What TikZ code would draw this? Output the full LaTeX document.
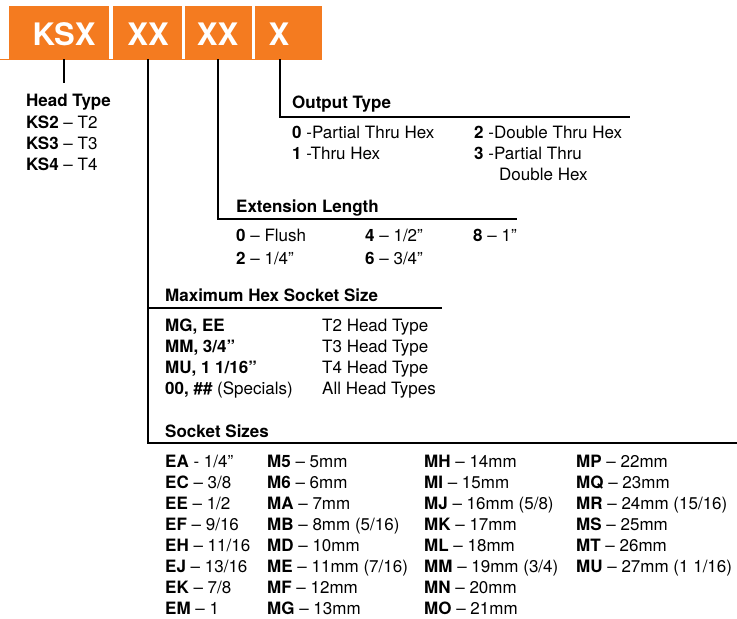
\documentclass[tikz,border=0pt]{standalone}
\usepackage{fontspec}
\setmainfont{TeX Gyre Heros}
\usepackage{tikz}
\definecolor{ksorange}{RGB}{244,123,32}
\newcommand{\bb}[1]{\textbf{#1}}

\begin{document}
\begin{tikzpicture}[x=1pt,y=-1pt,
  lbl/.style={anchor=base west,inner sep=0pt,font=\fontsize{17}{20}\selectfont},
  code/.style={anchor=base,inner sep=0pt,text=white,font=\fontsize{31}{31}\selectfont\bfseries},
  lead/.style={line width=1.8pt}]
  \useasboundingbox (0,0) rectangle (737,619);
  % part number bar
  \draw[ksorange,line width=1pt](0,59)--(322,59);
  \fill[ksorange](9,6) rectangle (109,59);
  \fill[ksorange](113,6) rectangle (182,59);
  \fill[ksorange](185,6) rectangle (252,59);
  \fill[ksorange](255,6) rectangle (322,59);
  \node[code] (ksx) at (64,45) {KSX};
  \node[code] (hexsz) at (148,45) {XX};
  \node[code] (extln) at (217.5,45) {XX};
  \node[code] (outty) at (279,45) {X};
  % leader lines
  \coordinate (ksxa) at (64,59);   \coordinate (ksxb) at (64,83);
  \coordinate (hexa) at (148,59);  \coordinate (hexb) at (148,443); \coordinate (hexc) at (737,443);
  \coordinate (maxa) at (148,308); \coordinate (maxb) at (442,308);
  \coordinate (exta) at (218,59);  \coordinate (extb) at (218,219); \coordinate (extc) at (517,219);
  \coordinate (outa) at (280,59);  \coordinate (outb) at (280,117); \coordinate (outc) at (630,117);
  \draw[lead](ksxa)--(ksxb);
  \draw[lead](hexa)--(hexb)--(hexc);
  \draw[lead](maxa)--(maxb);
  \draw[lead](exta)--(extb)--(extc);
  \draw[lead](outa)--(outb)--(outc);
  % head type
  \node[lbl] (headt) at (26,106) {\bb{Head Type}};
  \node[lbl] (ks2) at (26,128) {\bb{KS2} -- T2};
  \node[lbl] (ks3) at (26,149) {\bb{KS3} -- T3};
  \node[lbl] (ks4) at (26,170) {\bb{KS4} -- T4};
  % output type
  \node[lbl] (outt) at (292,108) {\bb{Output Type}};
  \node[lbl] (out0) at (292,138) {\bb{0} -Partial Thru Hex};
  \node[lbl] (out1) at (292,159) {\bb{1} -Thru Hex};
  \node[lbl] (out2) at (474,138) {\bb{2} -Double Thru Hex};
  \node[lbl] (out3) at (474,159) {\bb{3} -Partial Thru};
  \node[lbl] (out3b) at (499,180) {Double Hex};
  % extension length
  \node[lbl] (extt) at (236,212) {\bb{Extension Length}};
  \node[lbl] (ext0) at (236,241) {\bb{0} -- Flush};
  \node[lbl] (ext2) at (236,264) {\bb{2} -- 1/4”};
  \node[lbl] (ext4) at (365,241) {\bb{4} -- 1/2”};
  \node[lbl] (ext6) at (365,264) {\bb{6} -- 3/4”};
  \node[lbl] (ext8) at (473,241) {\bb{8} -- 1”};
  % maximum hex socket size
  \node[lbl] (maxt) at (165,301) {\bb{Maximum Hex Socket Size}};
  \node[lbl] (max2) at (165,331) {\bb{MG, EE}};
  \node[lbl] (max3) at (165,352) {\bb{MM, 3/4”}};
  \node[lbl] (max4) at (165,373) {\bb{MU, 1 1/16”}};
  \node[lbl] (maxs) at (165,394) {\bb{00, \#\#} (Specials)};
  \node[lbl] (hd2) at (322,331) {T2 Head Type};
  \node[lbl] (hd3) at (322,352) {T3 Head Type};
  \node[lbl] (hd4) at (322,373) {T4 Head Type};
  \node[lbl] (hda) at (322,394) {All Head Types};
  % socket sizes
  \node[lbl] (sockt) at (165,437) {\bb{Socket Sizes}};
  \node[lbl] (ea) at (165,467) {\bb{EA} - 1/4”};
  \node[lbl] (ec) at (165,488) {\bb{EC} -- 3/8};
  \node[lbl] (ee) at (165,509) {\bb{EE} -- 1/2};
  \node[lbl] (ef) at (165,530) {\bb{EF} -- 9/16};
  \node[lbl] (eh) at (165,551) {\bb{EH} -- 11/16};
  \node[lbl] (ej) at (165,572) {\bb{EJ} -- 13/16};
  \node[lbl] (ek) at (165,593) {\bb{EK} -- 7/8};
  \node[lbl] (em) at (165,614) {\bb{EM} -- 1};
  \node[lbl] (m5) at (267,467) {\bb{M5} -- 5mm};
  \node[lbl] (m6) at (267,488) {\bb{M6} -- 6mm};
  \node[lbl] (ma) at (267,509) {\bb{MA} -- 7mm};
  \node[lbl] (mb) at (267,530) {\bb{MB} -- 8mm (5/16)};
  \node[lbl] (md) at (267,551) {\bb{MD} -- 10mm};
  \node[lbl] (me) at (267,572) {\bb{ME} -- 11mm (7/16)};
  \node[lbl] (mf) at (267,593) {\bb{MF} -- 12mm};
  \node[lbl] (mg) at (267,614) {\bb{MG} -- 13mm};
  \node[lbl] (mh) at (424,467) {\bb{MH} -- 14mm};
  \node[lbl] (mi) at (424,488) {\bb{MI} -- 15mm};
  \node[lbl] (mj) at (424,509) {\bb{MJ} -- 16mm (5/8)};
  \node[lbl] (mk) at (424,530) {\bb{MK} -- 17mm};
  \node[lbl] (ml) at (424,551) {\bb{ML} -- 18mm};
  \node[lbl] (mm) at (424,572) {\bb{MM} -- 19mm (3/4)};
  \node[lbl] (mn) at (424,593) {\bb{MN} -- 20mm};
  \node[lbl] (mo) at (424,614) {\bb{MO} -- 21mm};
  \node[lbl] (mp) at (576,467) {\bb{MP} -- 22mm};
  \node[lbl] (mq) at (576,488) {\bb{MQ} -- 23mm};
  \node[lbl] (mr) at (576,509) {\bb{MR} -- 24mm (15/16)};
  \node[lbl] (ms) at (576,530) {\bb{MS} -- 25mm};
  \node[lbl] (mt) at (576,551) {\bb{MT} -- 26mm};
  \node[lbl] (mu) at (576,572) {\bb{MU} -- 27mm (1 1/16)};
\end{tikzpicture}
\end{document}
